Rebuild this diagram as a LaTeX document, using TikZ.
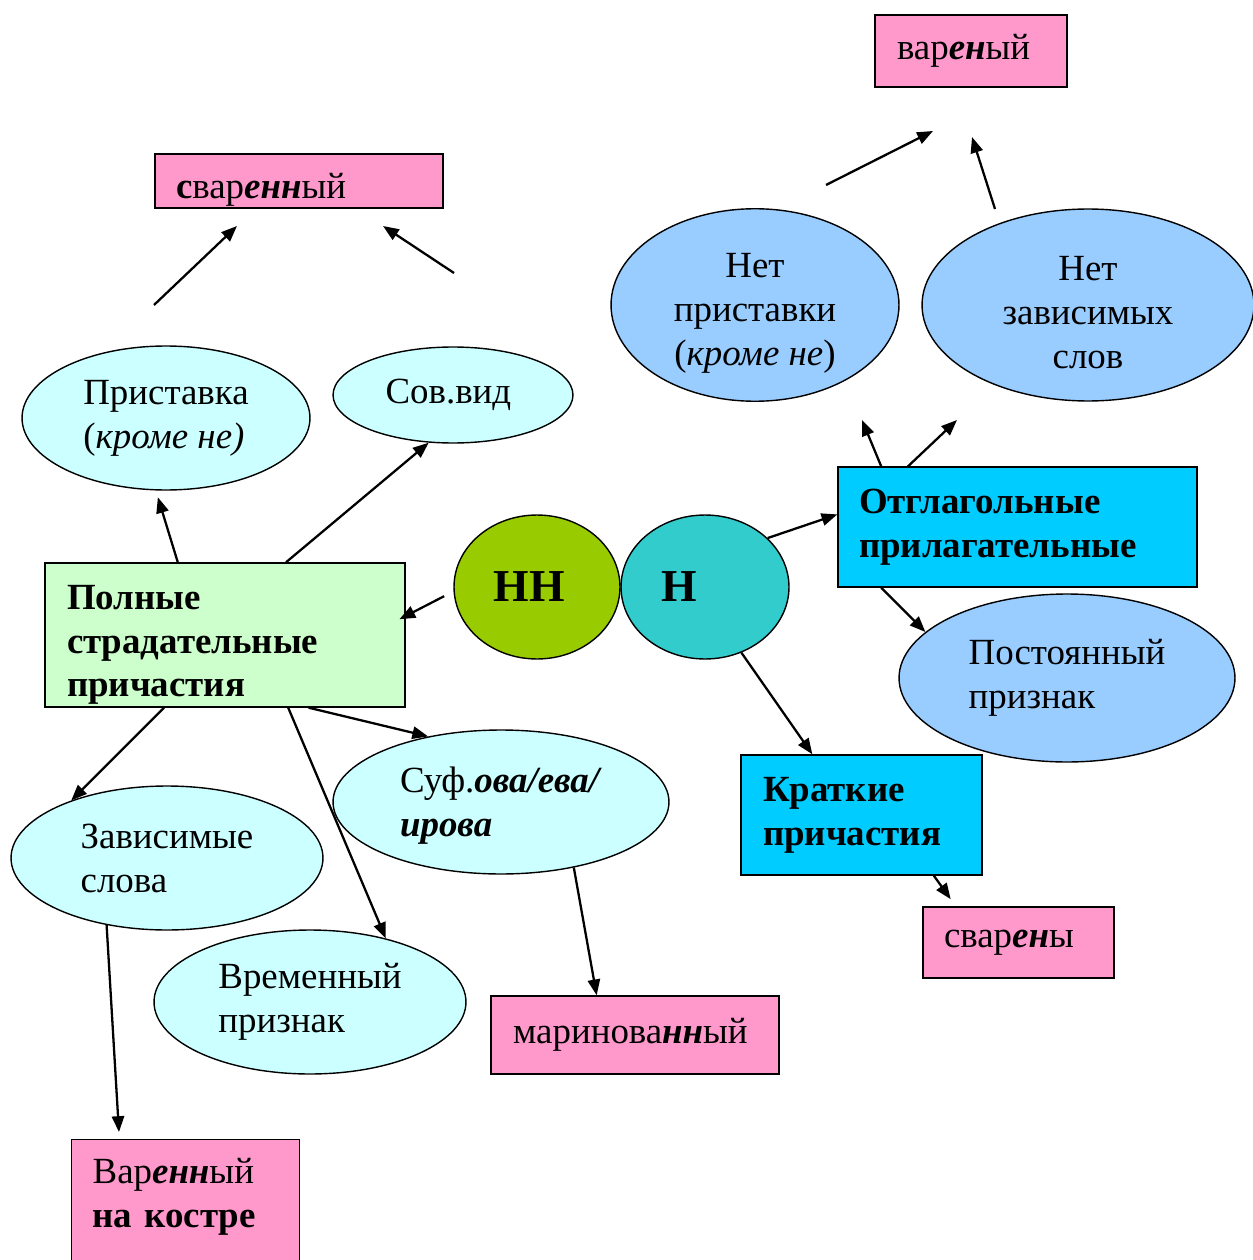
\documentclass[tikz,border=0pt]{standalone}
\usepackage{fontspec}
\setmainfont{Liberation Serif}
\usetikzlibrary{arrows.meta, shapes.geometric}
\definecolor{pinkfill}{HTML}{FF99CC}
\definecolor{cyanfill}{HTML}{CCFFFF}
\definecolor{bluefill}{HTML}{99CCFF}
\definecolor{greenfill}{HTML}{CCFFCC}
\definecolor{skyfill}{HTML}{00CCFF}
\definecolor{nnfill}{HTML}{99CC00}
\definecolor{nfill}{HTML}{33CCCC}

\begin{document}
\begin{tikzpicture}[x = 0.02cm, y = -0.02cm,
    every node/.style = { draw, line width = 0.8pt, inner sep = 0pt,
      font = \fontsize{21}{25}\selectfont },
    pinkbox/.style = { fill = pinkfill, align = left },
    greenbox/.style = { fill = greenfill, align = left, font = \fontsize{21}{25}\selectfont\bfseries },
    skybox/.style = { fill = skyfill, align = left, font = \fontsize{21}{25}\selectfont\bfseries },
    cyanoval/.style = { shape = ellipse, fill = cyanfill, align = left },
    blueoval/.style = { shape = ellipse, fill = bluefill, align = center },
    letters/.style = { shape = ellipse, text width = 1.74cm, align = left,
      font = \fontsize{26}{30}\selectfont\bfseries },
    arr/.style = { -{Triangle[length = 9pt, width = 7pt]}, line width = 1.3pt }
  ]
  \useasboundingbox (0,0) rectangle (1253,1260);

  \node [pinkbox, minimum width = 3.84cm, minimum height = 1.44cm, text width = 2.96cm]
    (varen) at (971,51) { вар\textbf{\textit{ен}}ый };
  \node [pinkbox, minimum width = 5.76cm, minimum height = 1.08cm, text width = 4.92cm]
    (svaren) at (299,181) { \rule{0pt}{24pt}\textbf{с}вар\textbf{\textit{енн}}ый };
  \node [blueoval, minimum width = 5.76cm, minimum height = 3.84cm]
    (netpr) at (755,305) { \rule{0pt}{23pt}Нет \\ приставки \\ (\textit{кроме не}) };
  \node [blueoval, minimum width = 6.64cm, minimum height = 3.84cm]
    (netzav) at (1088,305) { \rule{0pt}{22pt}Нет \\ зависимых \\ слов };
  \node [cyanoval, minimum width = 5.76cm, minimum height = 2.88cm]
    (prist) at (166,418) { Приставка \\ (\textit{кроме не)} };
  \node [cyanoval, minimum width = 4.8cm, minimum height = 1.92cm]
    (sov) at (453,395) { Сов.вид };
  \node [greenbox, minimum width = 7.2cm, minimum height = 2.88cm, text width = 6.32cm]
    (polny) at (225,635) { \rule{0pt}{25pt}Полные \\ страдательные \\ причастия };
  \node [letters, fill = nnfill, minimum width = 3.32cm, minimum height = 2.88cm]
    (nn) at (537,587) { НН };
  \node [letters, fill = nfill, minimum width = 3.36cm, minimum height = 2.88cm]
    (n) at (705,587) { Н };
  \node [skybox, minimum width = 7.18cm, minimum height = 2.4cm, text width = 6.34cm]
    (otgl) at (1017.5,527) { Отглагольные \\ прилагательные };
  \node [blueoval, align = left, minimum width = 6.72cm, minimum height = 3.36cm]
    (post) at (1067,678) { Постоянный \\ признак };
  \node [skybox, minimum width = 4.82cm, minimum height = 2.4cm, text width = 3.94cm]
    (kratk) at (861.5,815) { Краткие \\ причастия };
  \node [pinkbox, minimum width = 3.82cm, minimum height = 1.42cm, text width = 2.98cm]
    (svareny) at (1018.5,942.5) { свар\textbf{\textit{ен}}ы };
  \node [cyanoval, minimum width = 6.24cm, minimum height = 2.88cm]
    (zavis) at (167,858) { Зависимые \\ слова };
  \node [cyanoval, minimum width = 6.72cm, minimum height = 2.88cm]
    (suf) at (501,802) { \rule{0pt}{19pt}Суф.\textbf{\textit{ова/ева/}} \\ \textbf{\textit{ирова}} };
  \node [cyanoval, minimum width = 6.24cm, minimum height = 2.88cm]
    (vrem) at (310,1002) { Временный \\ признак };
  \node [pinkbox, align = center, minimum width = 5.76cm, minimum height = 1.56cm]
    (marin) at (635,1035) { маринова\textbf{\textit{нн}}ый };
  \node [pinkbox, anchor = north west, minimum width = 4.56cm, text width = 3.72cm,
    inner ysep = 0.38cm] (varkost) at (71,1139)
    { Вар\textbf{\textit{енн}}ый \\ \textbf{на костре} \\ \mbox{} };

  \coordinate (s1) at (154,305);
  \coordinate (s2) at (237,226);
  \coordinate (s3) at (454,273);
  \coordinate (s4) at (383,226);
  \coordinate (v1) at (826,185);
  \coordinate (v2) at (933,131);
  \coordinate (v3) at (995,209);
  \coordinate (v4) at (972,137);
  \coordinate (o1) at (862,420);
  \coordinate (o2) at (957,420);

  \draw [arr] (s1) -- (s2);
  \draw [arr] (s3) -- (s4);
  \draw [arr] (v1) -- (v2);
  \draw [arr] (v3) -- (v4);
  \draw [arr, shorten > = 4pt] (polny.123) -- (prist.262);
  \draw [arr] (polny.50) -- (sov.243);
  \draw [arr, shorten < = 6pt, shorten > = -4pt] (nn.183) -- (polny.6);
  \draw [arr] (polny.230) -- (zavis.149);
  \draw [arr] (polny.311) -- (vrem.40);
  \draw [arr] (polny.319) -- (suf.138);
  \draw [arr, shorten > = 4pt] (zavis.228) -- (varkost.131);
  \draw [arr] (suf.318) -- (marin.134);
  \draw [arr] (n.38) -- (otgl.176);
  \draw [arr] (n.299) -- (kratk.129);
  \draw [arr] (otgl.156) -- (o1);
  \draw [arr] (otgl.151) -- (o2);
  \draw [arr] (otgl.204) -- (post.162);
  \draw [arr, shorten > = 5pt] (kratk.320) -- (svareny.150);
\end{tikzpicture}
\end{document}
